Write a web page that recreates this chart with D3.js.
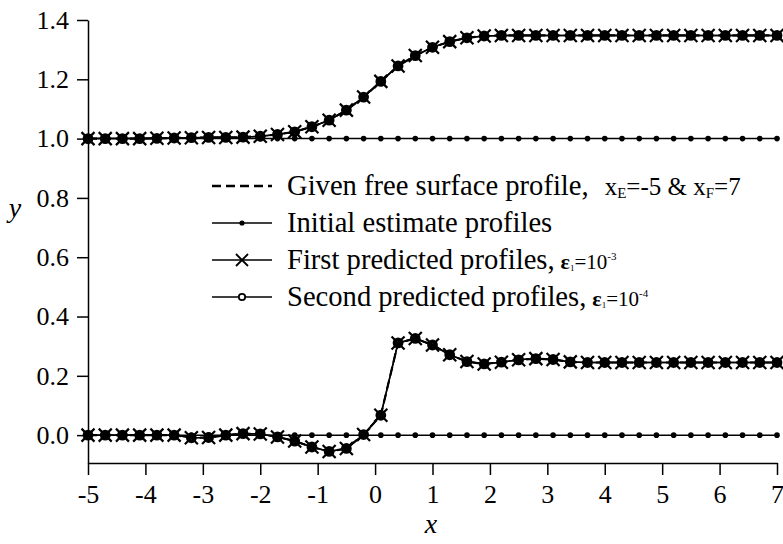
<!DOCTYPE html>
<html>
<head>
<meta charset="utf-8">
<script src="https://cdn.jsdelivr.net/npm/d3@7"></script>
<style>
	body { margin: 0; background: #fff; }
</style>
</head>
<body>
<svg id="chart" width="783" height="544" font-family="'Liberation Serif', 'DejaVu Serif', serif"></svg>
<script>
// x stations of the computed profiles
var xValues = [-5, -4.7, -4.4, -4.1, -3.8, -3.5, -3.2, -2.9, -2.6, -2.3, -2.0, -1.7, -1.4, -1.1, -0.8, -0.5, -0.2,
	0.1, 0.4, 0.7, 1.0, 1.3, 1.6, 1.9, 2.2, 2.5, 2.8, 3.1, 3.4, 3.7, 4.0, 4.3, 4.6, 4.9, 5.2, 5.5, 5.8, 6.1, 6.4, 6.7, 7.0];

// initial estimate (flat) profiles
var initialUpper = [1, 1, 1, 1, 1, 1, 1, 1, 1, 1, 1, 1, 1, 1, 1, 1, 1, 1, 1, 1, 1,
	1, 1, 1, 1, 1, 1, 1, 1, 1, 1, 1, 1, 1, 1, 1, 1, 1, 1, 1, 1];
var initialLower = [0, 0, 0, 0, 0, 0, 0, 0, 0, 0, 0, 0, 0, 0, 0, 0, 0, 0, 0, 0, 0,
	0, 0, 0, 0, 0, 0, 0, 0, 0, 0, 0, 0, 0, 0, 0, 0, 0, 0, 0, 0];

// first predicted profiles
var firstUpper = [1.000, 1.000, 1.000, 1.000, 1.001, 1.002, 1.003, 1.004, 1.004, 1.005, 1.008, 1.014, 1.023, 1.040,
	1.062, 1.096, 1.140, 1.193, 1.245, 1.280, 1.308, 1.327, 1.340, 1.346, 1.348, 1.348, 1.348, 1.348, 1.348,
	1.348, 1.348, 1.348, 1.348, 1.348, 1.348, 1.348, 1.348, 1.348, 1.348, 1.348, 1.348];
var firstLower = [0.000, 0.000, 0.000, 0.000, 0.000, 0.000, -0.009, -0.008, 0.000, 0.005, 0.004, -0.006, -0.020,
	-0.040, -0.055, -0.045, 0.002, 0.067, 0.311, 0.326, 0.304, 0.271, 0.248, 0.240, 0.246, 0.254, 0.258, 0.255,
	0.247, 0.245, 0.245, 0.245, 0.245, 0.245, 0.245, 0.245, 0.245, 0.245, 0.245, 0.245, 0.245];

// second predicted and given profiles coincide with the first ones at plot resolution
var secondUpper = firstUpper.slice();
var secondLower = firstLower.slice();
var givenUpper = firstUpper.slice();
var givenLower = firstLower.slice();

var xTicks = [-5, -4, -3, -2, -1, 0, 1, 2, 3, 4, 5, 6, 7];
var yTicks = [0, 0.2, 0.4, 0.6, 0.8, 1.0, 1.2, 1.4];

var serif = "'Liberation Serif', 'DejaVu Serif', serif";
var svg = d3.select("#chart");

var x = d3.scaleLinear().domain([-5, 7]).range([88, 777]);
var y = d3.scaleLinear().domain([-0.094, 1.4]).range([463, 20]);

// axes
var gx = svg.append("g")
	.attr("transform", "translate(0,463)")
	.call(d3.axisBottom(x).tickValues(xTicks).tickSize(12).tickSizeOuter(0).tickPadding(10)
		.tickFormat(d3.format("d")));
var gy = svg.append("g")
	.attr("transform", "translate(88,0)")
	.call(d3.axisLeft(y).tickValues(yTicks).tickSize(11).tickSizeOuter(0).tickPadding(8)
		.tickFormat(d3.format(".1f")));

[gx, gy].forEach(function(g) {
	g.attr("font-family", serif).attr("font-size", 26);
	g.selectAll("path, line").attr("stroke", "#000").attr("stroke-width", 1.5);
	g.selectAll("text").attr("fill", "#000");
});
// minus sign shown as a plain hyphen
gx.selectAll("text").text(function(d) { return String(d); });

svg.append("text").attr("x", 15).attr("y", 217).attr("text-anchor", "middle").attr("font-family", serif)
	.attr("font-size", 28).attr("font-style", "italic").text("y");
svg.append("text").attr("x", 431).attr("y", 533).attr("text-anchor", "middle").attr("font-family", serif)
	.attr("font-size", 28).attr("font-style", "italic").text("x");

// plotting helpers
var line = d3.line().x(function(d) { return x(d[0]); }).y(function(d) { return y(d[1]); });

function pairs(vals) {
	return xValues.map(function(xv, i) { return [xv, vals[i]]; });
}

function drawLine(vals, dash, width) {
	svg.append("path").datum(pairs(vals))
		.attr("d", line).attr("fill", "none").attr("stroke", "#000")
		.attr("stroke-width", width).attr("stroke-dasharray", dash);
}

function dotMarker(g, r) {
	g.append("circle").attr("r", r).attr("fill", "#000");
}
function ringMarker(g, r, sw) {
	g.append("circle").attr("r", r).attr("fill", "none").attr("stroke", "#000").attr("stroke-width", sw);
}
function crossMarker(g, s, sw) {
	g.append("path").attr("d", "M" + (-s) + "," + (-s) + "L" + s + "," + s + "M" + (-s) + "," + s + "L" + s + "," + (-s))
		.attr("stroke", "#000").attr("stroke-width", sw).attr("fill", "none");
}

function drawMarkers(vals, fn) {
	svg.append("g").selectAll("g").data(pairs(vals)).join("g")
		.attr("transform", function(d) { return "translate(" + x(d[0]) + "," + y(d[1]) + ")"; })
		.each(function() { fn(d3.select(this)); });
}

// given free surface
drawLine(givenUpper, "9,5", 2.2);
drawLine(givenLower, "9,5", 2.2);

// initial estimates
drawLine(initialUpper, null, 1.5);
drawLine(initialLower, null, 1.5);
drawMarkers(initialUpper, function(g) { dotMarker(g, 2.8); });
drawMarkers(initialLower, function(g) { dotMarker(g, 2.8); });

// second predicted
drawLine(secondUpper, null, 1.5);
drawLine(secondLower, null, 1.5);
drawMarkers(secondUpper, function(g) { ringMarker(g, 3.4, 4); });
drawMarkers(secondLower, function(g) { ringMarker(g, 3.4, 4); });

// first predicted
drawLine(firstUpper, null, 1.5);
drawLine(firstLower, null, 1.5);
drawMarkers(firstUpper, function(g) { crossMarker(g, 6.5, 2.2); });
drawMarkers(firstLower, function(g) { crossMarker(g, 6.5, 2.2); });

// legend
var legendRows = [186, 223, 260, 297];
var lx0 = 212, lx1 = 272, tx = 287;
var leg = svg.append("g").attr("font-family", serif);

leg.append("line").attr("x1", lx0).attr("x2", lx1).attr("y1", legendRows[0]).attr("y2", legendRows[0])
	.attr("stroke", "#000").attr("stroke-width", 2.5).attr("stroke-dasharray", "9,5");
[1, 2, 3].forEach(function(i) {
	leg.append("line").attr("x1", lx0).attr("x2", lx1).attr("y1", legendRows[i]).attr("y2", legendRows[i])
		.attr("stroke", "#000").attr("stroke-width", 1.5);
});
dotMarker(leg.append("g").attr("transform", "translate(" + (lx0 + lx1) / 2 + "," + legendRows[1] + ")"), 2.6);
crossMarker(leg.append("g").attr("transform", "translate(" + (lx0 + lx1) / 2 + "," + legendRows[2] + ")"), 6, 1.8);
leg.append("circle").attr("cx", (lx0 + lx1) / 2).attr("cy", legendRows[3]).attr("r", 3.2)
	.attr("fill", "#fff").attr("stroke", "#000").attr("stroke-width", 1.8);

function legText(row) {
	return leg.append("text").attr("x", tx).attr("y", legendRows[row] + 9).attr("font-size", 28.6);
}

var t0 = legText(0);
t0.append("tspan").text("Given free surface profile,");
t0.append("tspan").attr("dx", 16).attr("font-size", 25).text("x");
t0.append("tspan").attr("font-size", 15).attr("dy", 3).text("E");
t0.append("tspan").attr("font-size", 25).attr("dy", -3).text("=-5 & x");
t0.append("tspan").attr("font-size", 15).attr("dy", 3).text("F");
t0.append("tspan").attr("font-size", 25).attr("dy", -3).text("=7");

legText(1).text("Initial estimate profiles");

function epsText(row, main, expo) {
	var t = legText(row);
	t.append("tspan").text(main);
	t.append("tspan").attr("dx", 6).attr("font-size", 22).attr("font-weight", "bold").text("\u03b5");
	t.append("tspan").attr("font-size", 9).attr("dy", 2).text("1");
	t.append("tspan").attr("font-size", 21).attr("dy", -2).text("=10");
	t.append("tspan").attr("font-size", 11).attr("dy", -9).text(expo);
}
epsText(2, "First predicted profiles,", "-3");
epsText(3, "Second predicted profiles,", "-4");
</script>
</body>
</html>
